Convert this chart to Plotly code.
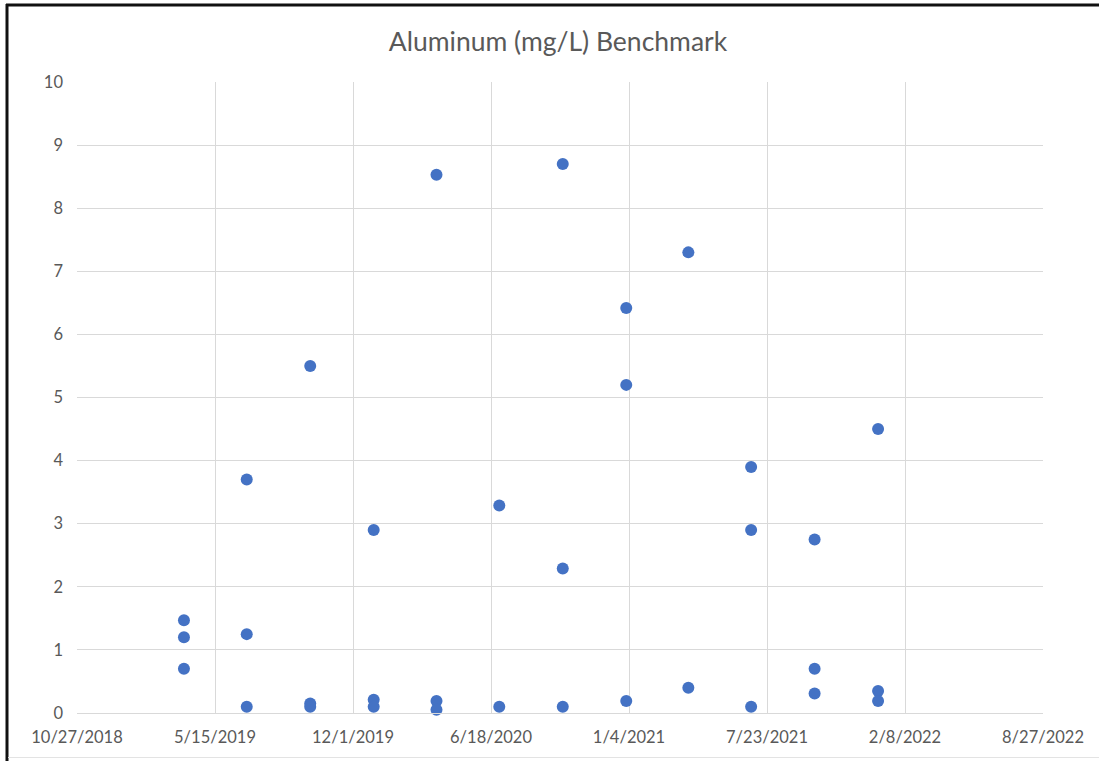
import plotly.graph_objects as go

# Sampling dates (quarterly) and measured aluminum concentrations
sample_dates = (
    ["2019-03-31"] * 3
    + ["2019-06-30"] * 3
    + ["2019-09-30"] * 3
    + ["2019-12-31"] * 3
    + ["2020-03-31"] * 3
    + ["2020-06-30"] * 2
    + ["2020-09-30"] * 3
    + ["2020-12-31"] * 3
    + ["2021-03-31"] * 2
    + ["2021-06-30"] * 3
    + ["2021-09-30"] * 3
    + ["2021-12-31"] * 3
)
aluminum_mg_l = [
    1.47, 1.2, 0.7,
    3.7, 1.25, 0.1,
    5.5, 0.15, 0.1,
    2.9, 0.21, 0.1,
    8.53, 0.19, 0.05,
    3.29, 0.1,
    8.7, 2.29, 0.1,
    6.42, 5.2, 0.19,
    7.3, 0.4,
    3.9, 2.9, 0.1,
    2.75, 0.7, 0.31,
    4.5, 0.35, 0.19,
]

# Date axis ticks (200-day spacing)
tick_dates = ["2018-10-27", "2019-05-15", "2019-12-01", "2020-06-18",
              "2021-01-04", "2021-07-23", "2022-02-08", "2022-08-27"]
tick_labels = ["10/27/2018", "5/15/2019", "12/1/2019", "6/18/2020",
               "1/4/2021", "7/23/2021", "2/8/2022", "8/27/2022"]
y_ticks = list(range(0, 11))

W, H = 1099, 761
L, R, T, B = 77, 56, 82, 48
pw, ph = W - L - R, H - T - B


def px_x(p):
    return (p - L) / pw


def px_y(p):
    return (H - B - p) / ph


fig = go.Figure()
fig.add_trace(go.Scatter(
    x=sample_dates, y=aluminum_mg_l, mode="markers",
    marker=dict(size=12, color="#4472C4"),
    showlegend=False, cliponaxis=False,
))

font_family = "Lato, Open Sans, Liberation Sans, sans-serif"
grid = "#D9D9D9"

fig.update_layout(
    width=W, height=H,
    margin=dict(l=L, r=R, t=T, b=B),
    paper_bgcolor="white", plot_bgcolor="white",
    title=dict(text="Aluminum (mg/L) Benchmark", x=px_x(558), xref="paper",
               xanchor="center", y=1 - 42 / H, yref="container", yanchor="middle",
               font=dict(family=font_family, size=26.5, color="#595959")),
    xaxis=dict(type="date", range=[tick_dates[0], tick_dates[-1]],
               tickmode="array", tickvals=tick_dates, ticktext=tick_labels,
               showgrid=True, gridcolor=grid, gridwidth=1.3,
               showline=True, linecolor=grid, linewidth=1.3, mirror=False,
               zeroline=False, ticks="", ticklabelstandoff=9,
               tickfont=dict(family=font_family, size=16.5, color="#595959")),
    yaxis=dict(range=[0, 10], tickmode="array", tickvals=y_ticks,
               showgrid=True, gridcolor=grid, gridwidth=1.3,
               showline=False, zeroline=False, ticks="", ticklabelstandoff=13,
               tickfont=dict(family=font_family, size=16.5, color="#595959")),
    shapes=[
        # outer frame: dark top and left edges, faint bottom edge
        dict(type="line", xref="paper", yref="paper",
             x0=px_x(6), x1=px_x(1100), y0=px_y(5), y1=px_y(5),
             line=dict(color="#111111", width=3)),
        dict(type="line", xref="paper", yref="paper",
             x0=px_x(7), x1=px_x(7), y0=px_y(4), y1=px_y(761),
             line=dict(color="#111111", width=3)),
        dict(type="line", xref="paper", yref="paper",
             x0=px_x(8), x1=px_x(1099), y0=px_y(757.5), y1=px_y(757.5),
             line=dict(color="#E3E3E3", width=1)),
    ],
)

fig.write_html("out.html")
